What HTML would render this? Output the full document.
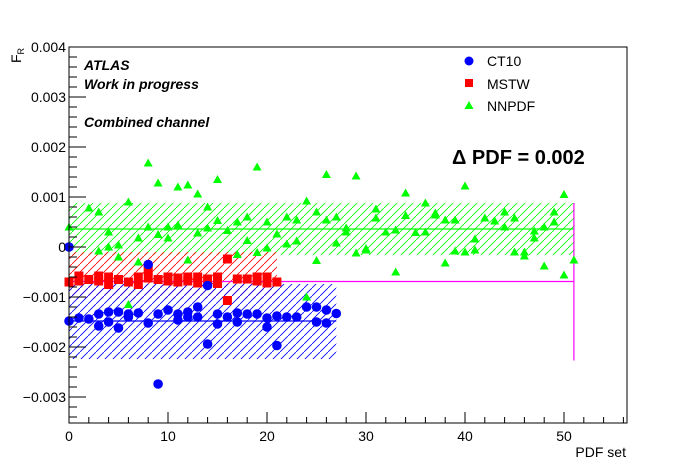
<!DOCTYPE html>
<html><head><meta charset="utf-8"><style>
body{margin:0;background:#fff;}
svg{display:block;font-family:"Liberation Sans",sans-serif;}
</style></head><body>
<svg id="chart" width="696" height="472" viewBox="0 0 696 472" xmlns="http://www.w3.org/2000/svg">
<defs>
<pattern id="hg" patternUnits="userSpaceOnUse" width="8" height="8"><path d="M-1,9 L9,-1" stroke="#00ff00" stroke-width="0.8"/></pattern>
<pattern id="hr" patternUnits="userSpaceOnUse" width="8" height="8"><path d="M-1,9 L9,-1" stroke="#ff0000" stroke-width="0.8"/></pattern>
<pattern id="hb" patternUnits="userSpaceOnUse" width="8" height="8"><path d="M-1,9 L9,-1" stroke="#0000ff" stroke-width="0.8"/></pattern>
</defs>
<g id="bands"></g><g id="marks"></g><g id="axes"></g>
<text x="84" y="70" font-size="14" font-weight="bold" font-style="italic">ATLAS</text>
<text x="84" y="89" font-size="14" font-weight="bold" font-style="italic">Work in progress</text>
<text x="84" y="127" font-size="14" font-weight="bold" font-style="italic">Combined channel</text>
<text x="452" y="164" font-size="20" font-weight="bold">Δ PDF = 0.002</text>
<g>
<circle cx="469" cy="61" r="4.5" fill="#0000ff"/>
<text x="487" y="66" font-size="14">CT10</text>
<rect x="465" y="79" width="8" height="8" fill="#ff0000"/>
<text x="487" y="89" font-size="14">MSTW</text>
<path d="M469,101 L473.5,109 L464.5,109 Z" fill="#00ff00"/>
<text x="487" y="111" font-size="14">NNPDF</text>
</g>
<text transform="translate(21,63) rotate(-90)" font-size="14">F<tspan font-size="9" dy="3">R</tspan></text>
<text x="626" y="457" font-size="14" text-anchor="end">PDF set</text>
</svg>
<script>
const ctX=[0,0,1,2,3,3,4,4,5,5,6,6,7,8,8,9,9,10,11,11,12,12,13,13,14,14,15,15,16,17,17,18,19,20,20,21,21,22,23,24,25,25,26,26,27];
const ctY=[0,-0.00148,-0.00142,-0.00144,-0.00134,-0.00158,-0.0013,-0.0015,-0.0013,-0.00162,-0.00134,-0.0014,-0.00132,-0.00152,-0.00035,-0.00134,-0.00274,-0.00126,-0.00134,-0.00146,-0.0013,-0.0014,-0.0012,-0.0014,-0.00077,-0.00194,-0.00134,-0.00154,-0.0014,-0.00132,-0.0015,-0.00134,-0.00134,-0.00142,-0.0016,-0.00138,-0.00197,-0.0014,-0.0014,-0.0012,-0.0012,-0.0015,-0.00126,-0.00152,-0.00133];
const msX=[0,1,1,2,3,3,4,4,5,6,7,7,8,8,9,10,10,11,11,12,12,13,13,14,15,15,16,16,17,18,19,19,20,20,21];
const msY=[-0.0007,-0.00058,-0.00068,-0.00065,-0.00058,-0.00068,-0.0006,-0.00075,-0.00065,-0.0007,-0.0006,-0.00075,-0.00047,-0.00062,-0.00065,-0.0006,-0.00068,-0.00062,-0.0007,-0.0006,-0.00068,-0.0006,-0.00072,-0.00064,-0.0006,-0.00073,-0.00024,-0.00107,-0.00064,-0.00064,-0.0006,-0.00068,-0.0006,-0.00072,-0.0007];
const nnX=[0,2,3,3,4,4,5,5,6,6,7,7,8,8,9,9,10,10,11,11,12,12,13,13,14,14,15,15,16,17,17,18,18,19,19,20,20,21,22,22,23,23,24,24,25,25,26,26,27,27,28,28,29,29,30,30,31,31,32,33,33,34,34,35,36,36,37,37,38,38,39,39,40,40,41,41,42,43,44,44,45,45,46,46,47,47,48,48,49,49,50,50,51];
const nnY=[0.0004,0.00078,0.0007,-0.00008,0.0003,0.0,0.00004,-0.0002,0.0009,-0.00115,0.00018,-0.0003,0.00168,0.0004,0.00128,0.00025,0.0004,0.00018,0.0012,0.00044,0.00124,-0.00026,0.00106,0.00028,0.0008,0.00038,0.00135,0.00053,0.00033,0.0005,-0.00015,0.0006,0.00013,0.0016,-0.00011,0.0005,-0.00002,0.00026,0.0006,0.00006,0.00054,0.00012,0.00092,-0.001,0.0007,-0.00027,0.00145,0.00054,0.0006,0.00008,0.00038,0.0003,0.00142,-0.00012,-0.00003,-0.00006,0.00076,0.00058,0.0003,0.00034,-0.0005,0.00108,0.00063,0.00029,0.00088,0.0003,0.00068,0.00064,0.00054,-0.00032,0.00054,-0.00008,0.00122,-0.0001,0.00016,-0.00006,0.00058,0.00052,0.0007,0.0004,0.00058,-0.0001,-0.0001,-0.00018,0.00032,0.00018,0.0004,-0.00038,0.0007,0.0005,0.00105,-0.00056,-0.00026];
// bands: [xmax, low, high, mean]
const ctBand=[27,-0.00224,-0.00074,-0.00148];
const msBand=[21,-0.00104,-0.00010,-0.00069];
const nnBand=[51,-0.00016,0.00088,0.00036];
const xTicks=[0,10,20,30,40,50];
const yTicks=[-0.003,-0.002,-0.001,0,0.001,0.002,0.003,0.004];
const yTickLabels=["−0.003","−0.002","−0.001","0","0.001","0.002","0.003","0.004"];

const NS="http://www.w3.org/2000/svg";
const L=69,R=627,T=47,B=423;
const X0=0,X1=(R-L)/9.9,Y0=-0.00352,Y1=0.004;
function sx(v){return L+(v-X0)/(X1-X0)*(R-L);}
function sy(v){return B-(v-Y0)/(Y1-Y0)*(B-T);}
function mk(tag,attrs,parent){const e=document.createElementNS(NS,tag);for(const k in attrs)e.setAttribute(k,attrs[k]);parent.appendChild(e);return e;}
const bands=document.getElementById('bands'),marks=document.getElementById('marks'),axes=document.getElementById('axes');

let e;
e=mk('rect',{x:sx(0),y:sy(nnBand[2]),width:sx(nnBand[0])-sx(0),height:sy(nnBand[1])-sy(nnBand[2]),fill:'url(#hg)'},bands);


e=mk('rect',{x:sx(0),y:sy(msBand[2]),width:sx(msBand[0])-sx(0),height:sy(msBand[1])-sy(msBand[2]),fill:'url(#hr)'},bands);


e=mk('rect',{x:sx(0),y:sy(ctBand[2]),width:sx(ctBand[0])-sx(0),height:sy(ctBand[1])-sy(ctBand[2]),fill:'url(#hb)'},bands);


e=mk('line',{x1:sx(0),x2:sx(nnBand[0]),y1:sy(nnBand[3]),y2:sy(nnBand[3]),stroke:'#00ff00','stroke-width':1.2},bands);


e=mk('line',{x1:sx(0),x2:sx(ctBand[0]),y1:sy(ctBand[3]),y2:sy(ctBand[3]),stroke:'#0000ff','stroke-width':1.2},bands);


e=mk('line',{x1:sx(0),x2:sx(nnBand[0]),y1:sy(msBand[3]),y2:sy(msBand[3]),stroke:'#ff00ff','stroke-width':1.2},bands);


e=mk('line',{x1:sx(nnBand[0]),x2:sx(nnBand[0]),y1:sy(nnBand[2]),y2:sy(ctBand[1]-0.00003),stroke:'#ff00ff','stroke-width':1.2},bands);



nnX.forEach((x,i)=>{const cx=sx(x),cy=sy(nnY[i]);
 const p=mk('path',{d:`M${cx},${cy-4.5} L${cx+4.5},${cy+3.5} L${cx-4.5},${cy+3.5} Z`,fill:'#00ff00'},marks);
 
 });
msX.forEach((x,i)=>{const cx=sx(x),cy=sy(msY[i]);
 const p=mk('rect',{x:cx-4.5,y:cy-4.5,width:9,height:9,fill:'#ff0000'},marks);
 
 });
ctX.forEach((x,i)=>{
 const p=mk('circle',{cx:sx(x),cy:sy(ctY[i]),r:4.8,fill:'#0000ff'},marks);
 
 });

e=mk('rect',{x:L,y:T,width:R-L,height:B-T,fill:'none',stroke:'#000','stroke-width':1},axes);


for(let v=0;v<=56;v+=2){const major=v%10===0;
 mk('line',{x1:sx(v),x2:sx(v),y1:B,y2:B-(major?11:6),stroke:'#000'},axes);}
xTicks.forEach(v=>{const t=mk('text',{x:sx(v),y:B+18,'font-size':14,'text-anchor':'middle'},axes);t.textContent=v;
 
 });
for(let k=-17;k<=20;k++){const v=k*0.0002;if(v<Y0)continue;const major=k%5===0;
 mk('line',{x1:L,x2:L+(major?17:8),y1:sy(v),y2:sy(v),stroke:'#000'},axes);}
yTicks.forEach((v,i)=>{const t=mk('text',{x:L-3,y:sy(v)+5,'font-size':14,'text-anchor':'end'},axes);t.textContent=yTickLabels[i];
 
 });
</script>
</body></html>
